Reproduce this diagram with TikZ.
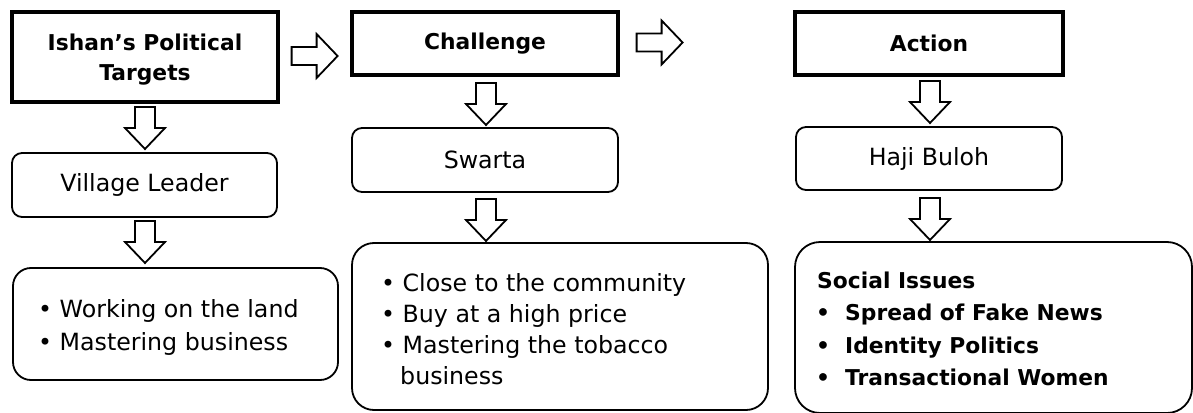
\documentclass[tikz,border=0pt]{standalone}
\usepackage{fontspec}
\setmainfont{DejaVu Sans}
\usetikzlibrary{calc}
\begin{document}
\begin{tikzpicture}[x=1pt,y=1pt,
  txt/.style={font=\fontsize{23.7}{30}\selectfont},
  btxt/.style={font=\fontsize{21.8}{30}\selectfont\bfseries},
  hdr/.style={draw, line width=3.2pt, inner sep=0pt, btxt, align=center},
  rbox/.style={draw, line width=1.8pt, rounded corners=10pt, inner sep=0pt, txt},
  lbox/.style={draw, line width=1.8pt, rounded corners=20pt, inner sep=0pt},
  item/.style={anchor=base west, inner sep=0pt, txt},
  bitem/.style={anchor=base west, inner sep=0pt, btxt},
  blockarrow/.style={draw, line width=1.8pt, fill=white, line join=miter},
  pics/darrow/.style={code={
    \draw[blockarrow] (-10,0) -- (-10,-21) -- (-20,-21) -- (0,-42) -- (20,-21) -- (10,-21) -- (10,0) -- cycle;}},
  pics/rarrow/.style={code={
    \draw[blockarrow] (0,9) -- (25,9) -- (25,22) -- (46,0) -- (25,-22) -- (25,-9) -- (0,-9) -- cycle;}}
]
\useasboundingbox (0,0) rectangle (1193,-412);

% header boxes
\node[hdr, minimum width=266, minimum height=90] (tgt) at (145,-57) {};
\node[btxt, align=center, inner sep=0pt] (tgtt) at ($(tgt.center)+(0,-3)$) {Ishan’s Political\\Targets};
\node[hdr, minimum width=266, minimum height=63] (chal) at (485,-43.5) {Challenge};
\node[hdr, minimum width=268, minimum height=63] (act) at (929,-43.5) {Action};

% second row
\node[rbox, minimum width=265, minimum height=64] (vl) at (144.5,-185) {Village Leader};
\node[rbox, minimum width=266, minimum height=64] (sw) at (485,-160) {Swarta};
\node[rbox, minimum width=266, minimum height=63] (hb) at (929,-158.5) {Haji Buloh};

% list boxes
\node[lbox, rounded corners=18pt, minimum width=325, minimum height=112] (l1) at (175.5,-324) {};
\node[lbox, rounded corners=22pt, minimum width=416, minimum height=167] (l2) at (560,-326.5) {};
\node[lbox, rounded corners=25pt, minimum width=397, minimum height=171] (l3) at (993.5,-327.5) {};

% list 1
\node[item] (a1) at (38,-317) {\textbullet\ Working on the land};
\node[item] (a2) at (38,-350) {\textbullet\ Mastering business};

% list 2
\node[item] (b1) at (381,-291) {\textbullet\ Close to the community};
\node[item] (b2) at (381,-322) {\textbullet\ Buy at a high price};
\node[item] (b3) at (381,-353) {\textbullet\ Mastering the tobacco};
\node[item] (b4) at (400,-384) {business};

% list 3
\node[bitem] (c0) at (817,-288) {Social Issues};
\node[bitem] (c1) at (816,-320) {\textbullet};
\node[bitem] (c1t) at (845,-320) {Spread of Fake News};
\node[bitem] (c2) at (816,-353) {\textbullet};
\node[bitem] (c2t) at (845,-353) {Identity Politics};
\node[bitem] (c3) at (816,-385) {\textbullet};
\node[bitem] (c3t) at (845,-385) {Transactional Women};

% block arrows
\pic at ($(tgt.east)+(12,1)$) {rarrow};
\pic at ($(chal.east)+(17,1)$) {rarrow};
\pic at (145,-107) {darrow};
\pic at (145,-221) {darrow};
\pic at (486,-83) {darrow};
\pic at (486,-199) {darrow};
\pic at (930,-81) {darrow};
\pic at (930,-198) {darrow};
\end{tikzpicture}
\end{document}
